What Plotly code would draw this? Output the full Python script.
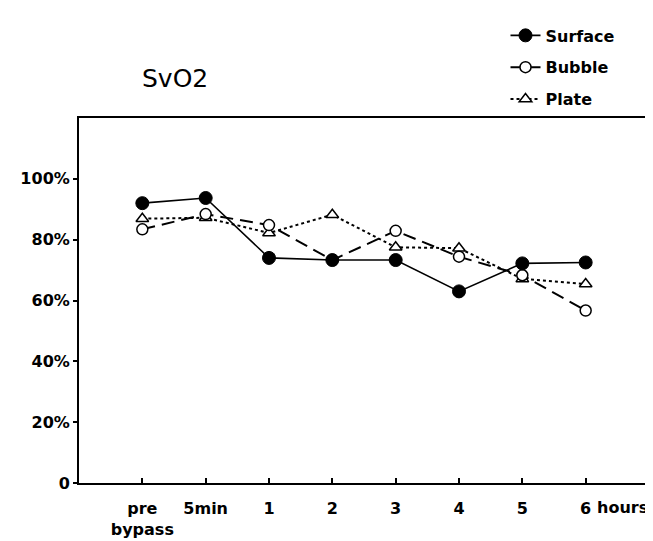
import plotly.graph_objects as go

# ---- data ----
categories = [0, 1, 2, 3, 4, 5, 6, 7]
tick_labels = ["pre<br>bypass", "5min", "1", "2", "3", "4", "5", "6"]
surface = [92.0, 93.7, 74.0, 73.3, 73.3, 63.0, 72.2, 72.5]
bubble = [83.4, 88.4, 84.8, 73.3, 82.9, 74.4, 68.3, 56.7]
plate = [86.9, 87.2, 82.2, 88.2, 77.5, 77.2, 67.1, 65.4]
y_ticks = [0, 20, 40, 60, 80, 100]
y_tick_labels = ["0", "20%", "40%", "60%", "80%", "100%"]

FONT = "DejaVu Sans"
W, H = 653, 541
ML, MR, MT, MB = 71, 10, 108, 48
PW, PH = W - ML - MR, H - MT - MB

fig = go.Figure()

fig.add_trace(go.Scatter(
    x=categories, y=plate, name="Plate", mode="lines+markers", legendgroup="c",
    legendrank=3,
    line=dict(color="black", width=2, dash="3px,3px"),
    marker=dict(symbol="triangle-up", size=11, color="white",
                line=dict(color="black", width=1.5)),
))
fig.add_trace(go.Scatter(
    x=categories, y=bubble, name="Bubble", mode="lines+markers", legendgroup="b",
    legendrank=2,
    line=dict(color="black", width=2, dash="13px,7px"),
    marker=dict(symbol="circle", size=11, color="white",
                line=dict(color="black", width=1.5)),
))
fig.add_trace(go.Scatter(
    x=categories, y=surface, name="Surface", mode="lines+markers", legendgroup="a",
    legendrank=1,
    line=dict(color="black", width=1.6),
    marker=dict(symbol="circle", size=13, color="black",
                line=dict(color="black", width=1)),
))

fig.update_layout(
    width=W, height=H,
    margin=dict(l=ML, r=MR, t=MT, b=MB),
    paper_bgcolor="white", plot_bgcolor="white",
    font=dict(family=FONT, size=16, color="black"),
    showlegend=True,
    legend=dict(
        x=(499 - ML) / PW, xanchor="left",
        y=1 + (MT - 3) / PH, yanchor="top",
        traceorder="grouped", tracegroupgap=8,
        font=dict(family=FONT, size=16, color="black", weight="bold"),
        bgcolor="rgba(0,0,0,0)", borderwidth=0,
    ),
    xaxis=dict(
        range=[-1, 8], tickmode="array", tickvals=categories, ticktext=tick_labels,
        ticks="inside", ticklen=5, tickwidth=1.5, tickcolor="black",
        showline=True, linecolor="black", linewidth=2, mirror=True,
        showgrid=False, zeroline=False, ticklabelstandoff=10,
        tickfont=dict(family=FONT, size=16, color="black", weight="bold"),
    ),
    yaxis=dict(
        range=[0, 120], tickmode="array", tickvals=y_ticks, ticktext=y_tick_labels,
        ticks="outside", ticklen=4, tickwidth=1.5, tickcolor="black",
        showline=True, linecolor="black", linewidth=2, mirror=True,
        showgrid=False, zeroline=False, ticklabelstandoff=0,
        tickfont=dict(family=FONT, size=16, color="black", weight="bold"),
    ),
    annotations=[
        dict(text="SvO2", xref="paper", yref="paper",
             x=(167 - ML) / PW, y=1 + (MT - 66) / PH,
             xanchor="center", yanchor="middle", showarrow=False,
             font=dict(family=FONT, size=25, color="black")),
        dict(text="hours", xref="x", yref="paper", x=categories[-1], y=0,
             xanchor="left", yanchor="top", xshift=9, yshift=-13, showarrow=False,
             font=dict(family=FONT, size=16, color="black", weight="bold")),
    ],
)

fig.write_html("out.html")
